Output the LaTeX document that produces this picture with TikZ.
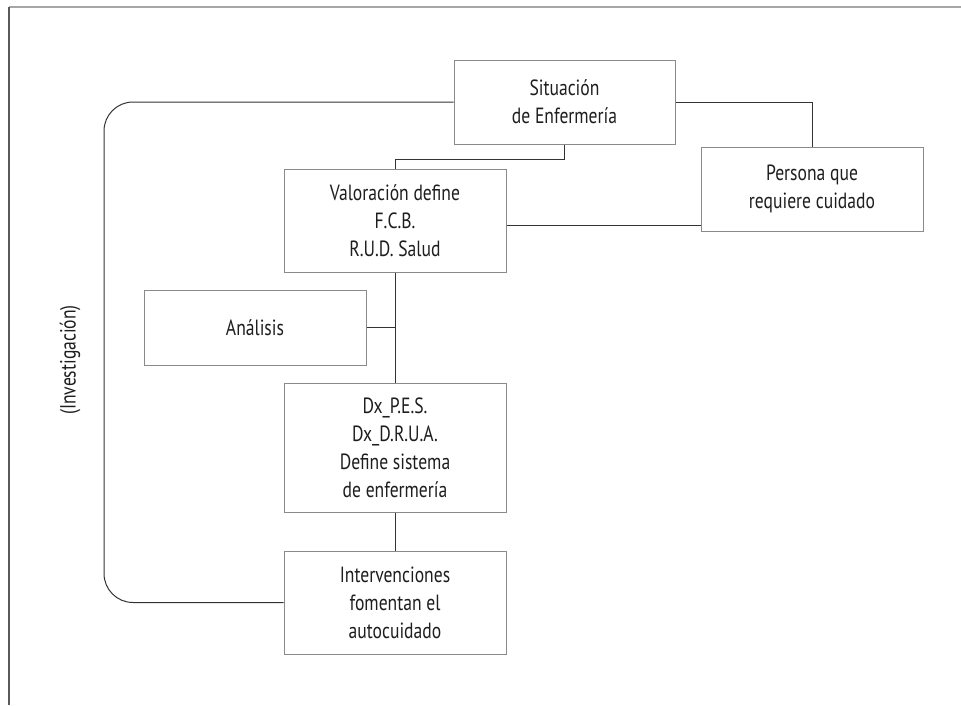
\documentclass[tikz,border=0pt]{standalone}
\usepackage{fontspec}
\setmainfont[FakeStretch=0.8]{PT Sans}
\definecolor{boxline}{HTML}{8A8A8A}
\definecolor{conn}{HTML}{333333}
\definecolor{txt}{HTML}{1E1E1E}
\definecolor{frametop}{HTML}{A6A6A6}
\definecolor{frameleft}{HTML}{5A5A5A}
\begin{document}
\begin{tikzpicture}[x=1pt,y={(0pt,-1pt)},
  box/.style={draw=boxline,line width=1pt,fill=white,inner sep=0pt,align=center,
    text=txt,font=\fontsize{22}{28}\selectfont,minimum width=222pt},
  link/.style={draw=conn,line width=1pt}]
\useasboundingbox (0,0) rectangle (961,705);
% frame
\coordinate (ftl) at (9,7);
\coordinate (ftr) at (961,7);
\coordinate (fbl) at (9,705);
\draw[frametop,line width=2pt] (ftl) -- (ftr);
\draw[frameleft,line width=1.2pt] (ftl) -- (fbl);
% boxes
\node[box,minimum width=221pt,minimum height=84pt] (sit) at (564.5,102) {Situación\\de Enfermería};
\node[box,minimum height=84pt] (per) at (812,189) {Persona que\\requiere cuidado};
\node[box,minimum height=103pt] (val) at (395,220.5) {Valoración define\\F.C.B.\\R.U.D. Salud};
\node[box,minimum height=75pt] (ana) at (255,327.5) {Análisis};
\node[box,minimum height=129pt] (dx) at (395,447.5) {Dx\_P.E.S.\\Dx\_D.R.U.A.\\Define sistema\\de enfermería};
\node[box,minimum height=103pt] (int) at (395,602.5) {Intervenciones\\fomentan el\\autocuidado};
\node[rotate=90,text=txt,font=\fontsize{22}{28}\selectfont,inner sep=0pt] (inv) at (70,360) {(Investigación)};
% connectors
\coordinate (lc) at (104,102);
\coordinate (sv) at (564,159);
\draw[link] (sv |- sit.south) -- (sv) -| (val.north);
\draw[link] (sit.east) -| (per.north);
\draw[link] ([yshift=-4.5pt]val.east) -- ([yshift=-4.5pt]val.east -| per.west);
\draw[link] (val.south) -- (dx.north);
\draw[link] (ana.east) -- (ana.east -| val.south);
\draw[link] (dx.south) -- (int.north);
\draw[link,rounded corners=29pt] (int.west) -| (lc |- sit.west) -- (sit.west);
\end{tikzpicture}
\end{document}
